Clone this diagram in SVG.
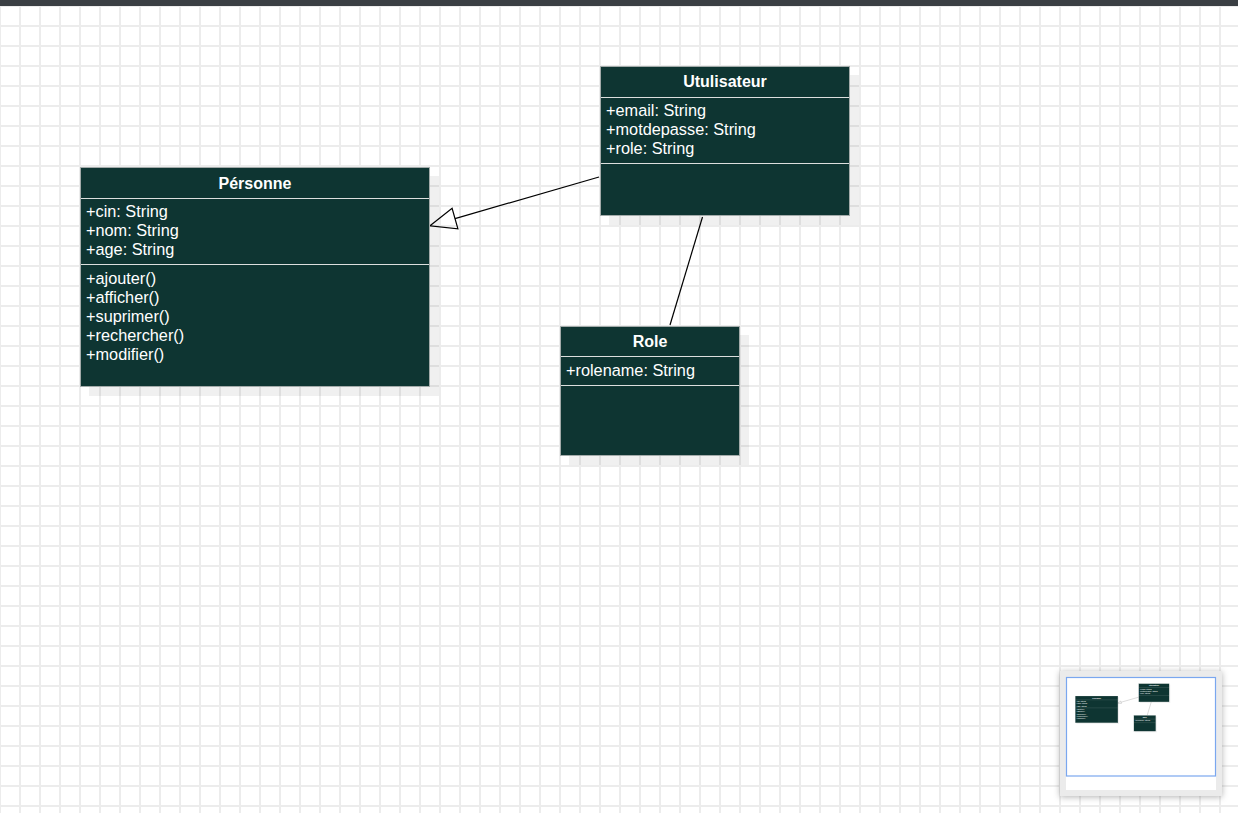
<svg xmlns="http://www.w3.org/2000/svg" xmlns:xlink="http://www.w3.org/1999/xlink" width="1238" height="813" viewBox="0 0 1238 813">
  <style>
    .box { fill: #0e3532; stroke: #a3abaa; stroke-width: 1; }
    .sep { stroke: #dcdfde; stroke-width: 1; }
    .shadow { fill: #000000; fill-opacity: 0.06; }
    .title { font-family: "Liberation Sans", Arial, sans-serif; font-size: 16px; font-weight: bold; fill: #ffffff; text-anchor: middle; }
    .member { font-family: "Liberation Sans", Arial, sans-serif; font-size: 16.3px; fill: #ffffff; }
    .edge { stroke: #000000; stroke-width: 1.2; fill: none; }
  </style>
  <defs>
    <pattern id="grid" patternUnits="userSpaceOnUse" x="1" y="7" width="20" height="20">
      <rect x="0" y="0" width="20" height="20" fill="#ffffff"/>
      <rect x="18" y="0" width="2" height="20" fill="#ececec"/>
      <rect x="0" y="18" width="20" height="2" fill="#ececec"/>
    </pattern>
    <filter id="panelShadow" x="-20%" y="-20%" width="140%" height="140%">
      <feDropShadow dx="0" dy="1" stdDeviation="3" flood-color="#000000" flood-opacity="0.3"/>
    </filter>
  </defs>

  <!-- canvas background grid -->
  <rect x="0" y="0" width="1238" height="813" fill="url(#grid)"/>
  <!-- toolbar strip -->
  <rect x="0" y="0" width="1238" height="6" fill="#3a3f43"/>

  <g id="diagram">
    <!-- connectors -->
    <g id="connectors">
      <!-- generalization: Utulisateur -> Persónne -->
      <line class="edge" x1="599" y1="177" x2="455" y2="218.6"/>
      <polygon class="edge" points="430,225.8 452.1,208.4 457.9,228.8"/>
      <!-- association: Utulisateur - Role -->
      <line class="edge" x1="702.5" y1="217" x2="670" y2="325"/>
    </g>

    <!-- class Persónne -->
    <g id="node-personne">
      <rect class="shadow" x="89" y="176" width="350" height="220"/>
      <rect class="box" x="80.5" y="167.5" width="349" height="219"/>
      <line class="sep" x1="81" y1="198.5" x2="429" y2="198.5"/>
      <line class="sep" x1="81" y1="264.5" x2="429" y2="264.5"/>
      <text class="title" x="255" y="188.5">Pérsonne</text>
      <text class="member" x="86" y="216.7">+cin: String</text>
      <text class="member" x="86" y="235.7">+nom: String</text>
      <text class="member" x="86" y="254.7">+age: String</text>
      <text class="member" x="86" y="283.5">+ajouter()</text>
      <text class="member" x="86" y="302.5">+afficher()</text>
      <text class="member" x="86" y="321.5">+suprimer()</text>
      <text class="member" x="86" y="340.5">+rechercher()</text>
      <text class="member" x="86" y="359.5">+modifier()</text>
    </g>

    <!-- class Utulisateur -->
    <g id="node-utulisateur">
      <rect class="shadow" x="609" y="75" width="250" height="150"/>
      <rect class="box" x="600.5" y="66.5" width="249" height="149"/>
      <line class="sep" x1="601" y1="97.5" x2="849" y2="97.5"/>
      <line class="sep" x1="601" y1="163.5" x2="849" y2="163.5"/>
      <text class="title" x="725" y="87">Utulisateur</text>
      <text class="member" x="606" y="115.7">+email: String</text>
      <text class="member" x="606" y="134.7">+motdepasse: String</text>
      <text class="member" x="606" y="153.7">+role: String</text>
    </g>

    <!-- class Role -->
    <g id="node-role">
      <rect class="shadow" x="569" y="335" width="180" height="130"/>
      <rect class="box" x="560.5" y="326.5" width="179" height="129"/>
      <line class="sep" x1="561" y1="356.5" x2="739" y2="356.5"/>
      <line class="sep" x1="561" y1="385.5" x2="739" y2="385.5"/>
      <text class="title" x="650" y="347">Role</text>
      <text class="member" x="566" y="375.7">+rolename: String</text>
    </g>
  </g>

  <!-- overview panel -->
  <g id="overview">
    <rect x="1060" y="671" width="162" height="125" fill="#ebebeb" filter="url(#panelShadow)"/>
    <rect x="1066" y="677" width="150" height="113" fill="#ffffff"/>
    <g transform="translate(1065.5,675.6) scale(0.122)">
      <use xlink:href="#diagram" href="#diagram"/>
    </g>
    <rect x="1066.5" y="677.5" width="149" height="98.5" fill="none" stroke="#7aa7ef" stroke-width="1.2"/>
  </g>
</svg>
